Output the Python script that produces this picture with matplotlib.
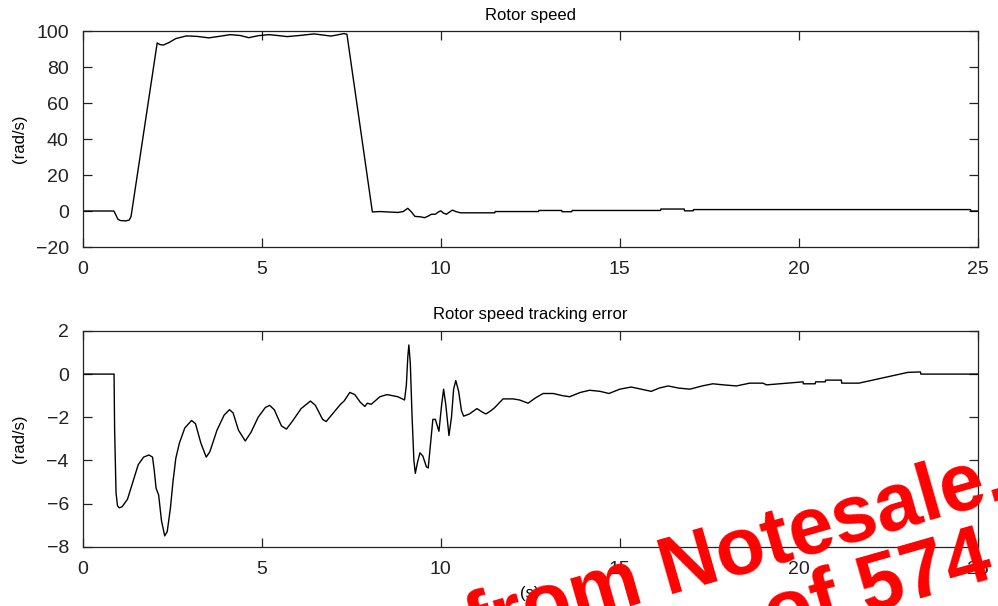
import matplotlib
matplotlib.use("Agg")
import matplotlib.pyplot as plt

# Values
speed_t = [0, 0.87, 0.92, 0.98, 1.05, 1.2, 1.3, 1.35, 2.08, 2.15, 2.25, 2.4, 2.6, 2.9,
           3.2, 3.52, 3.8, 4.12, 4.4, 4.64, 4.9, 5.2, 5.45, 5.71, 6.1, 6.46, 6.7, 6.93,
           7.1, 7.3, 7.38, 8.09, 8.3, 8.5, 8.8, 8.95, 9.08, 9.18, 9.28, 9.42, 9.55, 9.65,
           9.74, 9.85, 9.93, 10.0, 10.08, 10.16, 10.25, 10.33, 10.42, 10.55, 11.51, 11.52,
           12.73, 12.74, 13.38, 13.39, 13.66, 13.67, 16.14, 16.15, 16.8, 16.81, 17.05,
           17.06, 24.8, 24.81, 25]
speed_w = [0, 0, -2, -4.5, -5.3, -5.5, -5.0, -3, 93.4, 92.5, 92.2, 93.5, 95.8, 97.3,
           97, 96.2, 97, 98, 97.5, 96.3, 97.4, 98, 97.5, 96.9, 97.6, 98.4, 97.8, 97.2,
           97.8, 98.6, 98.2, -0.5, -0.3, -0.5, -0.8, -0.3, 1.5, -0.5, -3.0, -3.2, -3.7, -2.8,
           -1.8, -1.8, -0.6, 0.1, -1.2, -1.8, -0.5, 0.5, -0.3, -1.0, -1.0, -0.3,
           -0.3, 0.3, 0.3, -0.4, -0.4, 0.3, 0.3, 1.1, 1.1, 0.1, 0.1,
           0.8, 0.8, 0.0, 0.0]

err_t = [0, 0.875, 0.89, 0.93, 0.97, 1.02, 1.1, 1.25, 1.4, 1.55, 1.7, 1.85, 1.95, 2.0,
         2.05, 2.12, 2.2, 2.29, 2.36, 2.45, 2.52, 2.6, 2.7, 2.85, 3.04, 3.15, 3.3, 3.45,
         3.55, 3.75, 3.95, 4.1, 4.2, 4.35, 4.54, 4.7, 4.9, 5.1, 5.22, 5.35, 5.55, 5.69,
         5.85, 6.1, 6.36, 6.5, 6.7, 6.8, 6.95, 7.2, 7.3, 7.46, 7.6, 7.75, 7.88, 7.95,
         8.06, 8.3, 8.5, 8.8, 8.99, 9.04, 9.08, 9.11, 9.15, 9.2, 9.25, 9.29, 9.35, 9.42,
         9.5, 9.6, 9.65, 9.7, 9.78, 9.85, 9.95, 10.02, 10.08, 10.14, 10.23, 10.3, 10.36,
         10.42, 10.5, 10.58, 10.64, 10.8, 11.01, 11.15, 11.26, 11.4, 11.51, 11.74, 12.02,
         12.2, 12.44, 12.65, 12.86, 13.14, 13.4, 13.6, 13.9, 14.16, 14.45, 14.7, 15.0,
         15.32, 15.6, 15.88, 16.1, 16.35, 16.65, 16.96, 17.3, 17.6, 17.9, 18.26, 18.63,
         19.0, 19.1, 20.12, 20.13, 20.46, 20.47, 20.74, 20.75, 21.19, 21.2, 21.68, 23.05,
         23.4, 23.41, 25]
err_w = [0, 0, -2.5, -5.5, -6.1, -6.2, -6.15, -5.8, -5.0, -4.2, -3.85, -3.75, -3.85, -4.5,
         -5.3, -5.6, -6.8, -7.5, -7.3, -6.2, -5.0, -3.9, -3.2, -2.5, -2.15, -2.3, -3.2, -3.85,
         -3.6, -2.6, -1.9, -1.65, -1.8, -2.6, -3.1, -2.7, -2.0, -1.55, -1.45, -1.65, -2.4, -2.55,
         -2.2, -1.6, -1.25, -1.45, -2.1, -2.2, -1.9, -1.4, -1.25, -0.85, -0.95, -1.3, -1.5, -1.35,
         -1.4, -1.05, -0.95, -1.05, -1.2, -0.5, 0.8, 1.35, 0.5, -2.0, -4.0, -4.6, -4.1, -3.65,
         -3.8, -4.3, -4.35, -3.5, -2.1, -2.1, -2.65, -1.5, -0.7, -1.4, -2.85, -2.0, -0.7,
         -0.3, -0.8, -1.7, -1.95, -1.85, -1.6, -1.75, -1.85, -1.7, -1.55, -1.15, -1.15,
         -1.2, -1.35, -1.1, -0.9, -0.9, -1.0, -1.05, -0.85, -0.75, -0.8, -0.9, -0.7,
         -0.6, -0.7, -0.8, -0.65, -0.55, -0.65, -0.7, -0.55, -0.45, -0.5, -0.55, -0.42,
         -0.42, -0.5, -0.36, -0.45, -0.45, -0.36, -0.36, -0.28, -0.28, -0.42, -0.42, 0.08,
         0.1, 0.0, 0.0]

x_ticks = [0, 5, 10, 15, 20, 25]
speed_ticks = [-20, 0, 20, 40, 60, 80, 100]
err_ticks = [-8, -6, -4, -2, 0, 2]

plt.rcParams["font.family"] = ["Liberation Sans", "DejaVu Sans"]


def style_axes(ax, yticks):
    ax.set_xlim(0, 25)
    ax.set_ylim(yticks[0], yticks[-1])
    ax.set_xticks(x_ticks)
    ax.set_yticks(yticks)
    ax.set_yticklabels([f"\u2212{-v}" if v < 0 else str(v) for v in yticks])
    ax.tick_params(direction="in", length=6.5, width=0.9, labelsize=14,
                   top=True, right=True, colors="#222222")
    ax.tick_params(axis="x", pad=10)
    ax.tick_params(axis="y", pad=10)
    for spine in ax.spines.values():
        spine.set_linewidth(0.9)
        spine.set_color("#222222")
    ax.set_ylabel("(rad/s)", fontsize=12)
    ax.yaxis.set_label_coords(-0.062, 0.5)


fig = plt.figure(figsize=(9.98, 6.06), dpi=100)
ax1 = fig.add_axes([0.0829, 0.5924, 0.8968, 0.3564])
ax2 = fig.add_axes([0.0829, 0.0979, 0.8968, 0.356])

ax1.plot(speed_t, speed_w, color="black", lw=1.0)
style_axes(ax1, speed_ticks)
ax1.set_title("Rotor speed", fontsize=12, pad=8)

ax2.plot(err_t, err_w, color="black", lw=1.0)
style_axes(ax2, err_ticks)
ax2.set_title("Rotor speed tracking error", fontsize=12, pad=8.5)
ax2.set_xlabel("(s)", fontsize=12, labelpad=6)

# red watermark over the lower right corner
wm = dict(color="red", fontsize=58, fontweight="bold", rotation=16,
          rotation_mode="anchor", ha="left", va="baseline",
          transform=None, zorder=10)
fig.text(474, 606 - 651, "from Notesale.co.uk", **wm)
fig.text(772, 606 - 641, "of 574", **wm)

fig.savefig("out.png", dpi=100)
